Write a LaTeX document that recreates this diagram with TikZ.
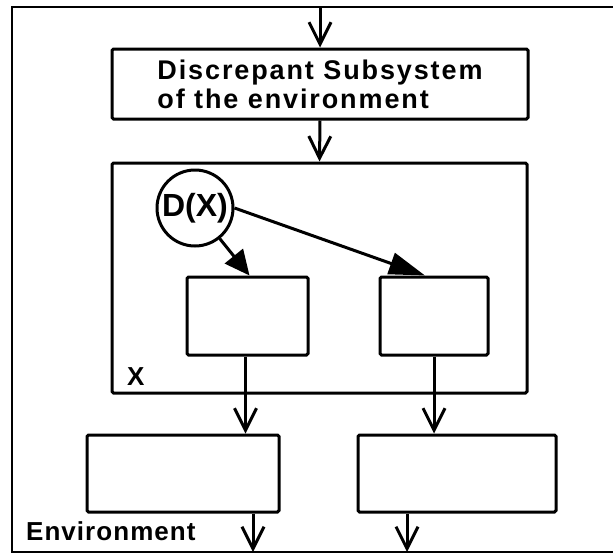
\documentclass[tikz,border=0pt]{standalone}
\usepackage{fontspec}
\setmainfont{Liberation Sans}
\newfontfamily\spacedsans[LetterSpace=4]{Liberation Sans}
\newfontfamily\widesans[LetterSpace=7]{Liberation Sans}
\usetikzlibrary{arrows.meta}
\begin{document}
\begin{tikzpicture}[x=1pt,y=-1pt,
  box/.style={draw, line width=3pt, rounded corners=1.5pt, inner sep=0pt},
  lbl/.style={font=\spacedsans\bfseries\fontsize{26}{30}\selectfont, inner sep=0pt},
  flow/.style={line width=3pt, -{Straight Barb[length=22pt,width=22pt]}},
]
\useasboundingbox (0,0) rectangle (613,555);

% surrounding environment frame (open on the right)
\draw[line width=2pt] (613,7) -- (12,7) -- (12,552) -- (613,552);
\coordinate (topin) at (320,7);
\coordinate (out1) at (253,552);
\coordinate (out2) at (407,552);

% boxes
\node[box, minimum width=416pt, minimum height=70pt, align=left,
      font=\widesans\bfseries\fontsize{27}{29}\selectfont] (ds) at (320,84)
  {Discrepant Subsystem\\of the environment};
\node[box, minimum width=415pt, minimum height=230pt] (xbox) at (319.5,278) {};
\node[box, circle, minimum size=76pt, font=\bfseries\fontsize{32}{32}\selectfont] (dx) at (195,208) {D(X)};
\node[box, minimum width=121pt, minimum height=78pt] (a1) at (247.5,316) {};
\node[box, minimum width=108pt, minimum height=78pt] (a2) at (434,316) {};
\node[box, minimum width=192pt, minimum height=77pt] (b1) at (183,473.5) {};
\node[box, minimum width=198pt, minimum height=77pt] (b2) at (457,473.5) {};

% labels
\node[lbl, anchor=base west] (xlab) at (127,385) {X};
\node[lbl, anchor=base west] (envlab) at (26,540) {Environment};

% connectors
\draw[flow] (topin) -- (ds.north);
\draw[flow] (ds.south) -- (xbox.north);
\draw[line width=3pt, -{Triangle[length=25pt,width=23pt]}] (dx) -- ([xshift=2pt]a1.north);
\draw[line width=3pt, -{Triangle[length=36pt,width=22pt]}] (dx.east) -- ([xshift=-9pt]a2.north);
\draw[flow] ([xshift=-2pt]a1.south) -- ([xshift=-2pt]a1.south |- b1.north);
\draw[flow] (a2.south) -- (a2.south |- b2.north);
\draw[flow] (out1 |- b1.south) -- (out1);
\draw[flow] (out2 |- b2.south) -- (out2);
\end{tikzpicture}
\end{document}
